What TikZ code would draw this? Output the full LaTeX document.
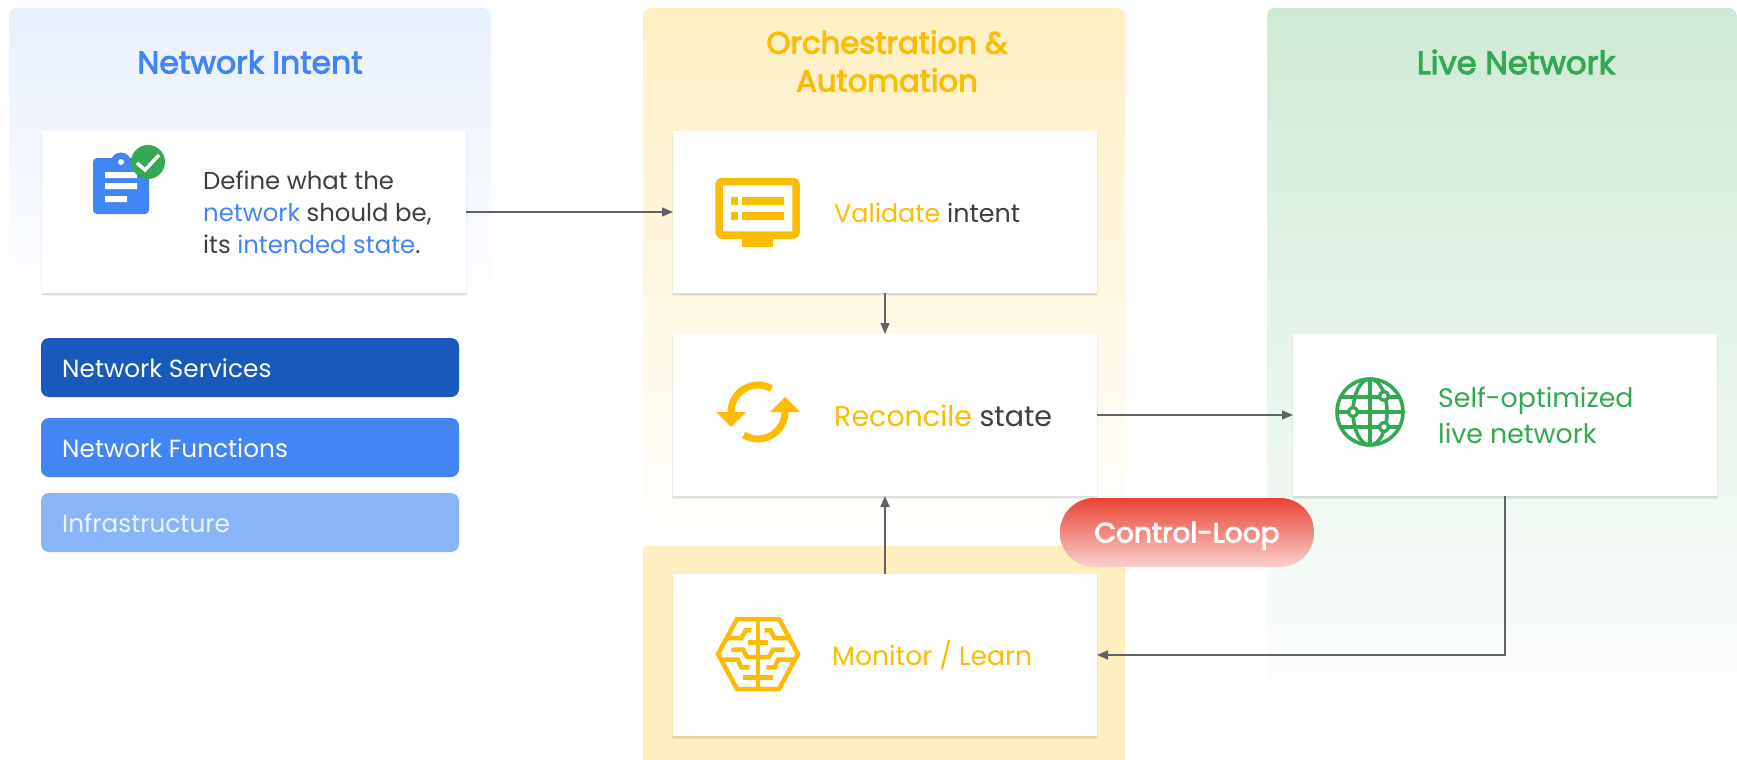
\documentclass[tikz,border=0pt]{standalone}
\usepackage{fontspec}
\setmainfont{Poppins}
\newfontfamily\headfont{Poppins}[FakeBold=3]
\usepackage{tikz}
\usetikzlibrary{arrows.meta}
\usetikzlibrary{shadows}
\definecolor{gblue}{HTML}{4285F4}
\definecolor{gdarkblue}{HTML}{185ABC}
\definecolor{glightblue}{HTML}{8AB4F8}
\definecolor{ggold}{HTML}{FBBC04}
\definecolor{ggreen}{HTML}{34A853}
\definecolor{gred}{HTML}{EA4335}
\definecolor{gtext}{HTML}{3C4043}
\definecolor{garrow}{HTML}{5F6368}
\tikzset{
card/.style={fill=white, inner sep=0pt, outer sep=0pt, minimum width=424pt, minimum height=162pt,
  drop shadow={shadow xshift=0pt, shadow yshift=-3pt, shadow scale=1.004, opacity=.05, fill=black},
  drop shadow={shadow xshift=0pt, shadow yshift=-1.5pt, shadow scale=1.002, opacity=.07, fill=black}},
bar/.style={rounded corners=8pt, inner sep=0pt, outer sep=0pt, minimum width=418pt, minimum height=59pt},
barlabel/.style={anchor=west, inner sep=0pt, text=white, font=\fontsize{24.8}{29}\selectfont},
title/.style={inner sep=0pt, align=center, font=\headfont\fontsize{30.7}{38}\selectfont},
cardlabel/.style={anchor=west, inner sep=0pt, align=left, text=gtext, font=\fontsize{24.4}{32}\selectfont},
flow/.style={-{Triangle[length=11pt,width=9pt]}, color=garrow, line width=1.3pt},
brainline/.style={draw=ggold, line width=4.5pt},
globeline/.style={draw=ggreen, line width=3.6pt},
}
\begin{document}
\begin{tikzpicture}[x=1pt,y=-1pt]
\useasboundingbox (0,0) rectangle (1737,760);
\path[top color=gblue!12, bottom color=white, rounded corners=8pt] (9,315) -- (9,8) -- (491,8) -- (491,315);
\path[top color=ggold!24, bottom color=white, rounded corners=8pt] (643,546) -- (643,8) -- (1125,8) -- (1125,546);
\path[fill=ggold!25, rounded corners=4pt] (643,760) -- (643,546) -- (1125,546) -- (1125,760);
\path[top color=ggreen!24, bottom color=white, rounded corners=8pt] (1737,722) -- (1737,8) -- (1267,8) -- (1267,722);

\node[title, text=gblue, font=\headfont\fontsize{31.4}{38}\selectfont] (intenttitle) at (250,62) {Network Intent};
\node[title, text=ggold] (orchtitle) at (887,61) {Orchestration \&\\Automation};
\node[title, text=ggreen, font=\headfont\fontsize{32.2}{38}\selectfont] (livetitle) at (1516,62) {Live Network};

\node[card] (intentcard) at (254,212) {};
\node[card] (validatecard) at (885,212) {};
\node[card] (reconcilecard) at (885,415) {};
\node[card] (monitorcard) at (885,655) {};
\node[card] (livecard) at (1505,415) {};

\node[cardlabel] (intentlabel) at (203,212) {Define what the\\\textcolor{gblue}{network} should be,\\its \textcolor{gblue}{intended state}.};
\node[cardlabel, font=\fontsize{25.4}{32}\selectfont] (validatelabel) at (834,213) {\textcolor{ggold}{Validate} intent};
\node[cardlabel, font=\fontsize{28.5}{32}\selectfont] (reconcilelabel) at (834,416) {\textcolor{ggold}{Reconcile} state};
\node[cardlabel, text=ggold, font=\fontsize{26.6}{32}\selectfont] (monitorlabel) at (832,655) {Monitor / Learn};
\node[cardlabel, text=ggreen, font=\fontsize{26.8}{36}\selectfont] (livelabel) at (1438,415) {Self-optimized\\live network};

\node[bar, fill=gdarkblue] (servicesbar) at (250,367.5) {};
\node[bar, fill=gblue] (functionsbar) at (250,447.5) {};
\node[bar, fill=glightblue] (infrabar) at (250,522.5) {};
\node[barlabel] (serviceslabel) at (62,368) {Network Services};
\node[barlabel] (functionslabel) at (62,448) {Network Functions};
\node[barlabel, text=gblue!10] (infralabel) at (62,523) {Infrastructure};

\fill[gblue, rounded corners=4pt] (93,158) rectangle (149,214);
\fill[gblue] (121,163) circle [radius=10.5pt];
\fill[white] (121,162) circle [radius=3pt];
\fill[white] (105,172) rectangle (137,178) (105,183) rectangle (137,189) (105,196) rectangle (127,202);
\fill[ggreen] (148,162) circle [radius=17pt];
\draw[white, line width=3.5pt] (137,163) -- (145,170) -- (159,155);

\draw[ggold, line width=7.5pt, rounded corners=3pt] (719,181.5) rectangle (796,235);
\fill[ggold] (742,238) rectangle (773,247);
\fill[ggold] (731,197) rectangle (738,205) (742,197) rectangle (784,205) (731,212) rectangle (738,220) (742,212) rectangle (784,220);

\draw[ggold, line width=7pt] (731,412) arc [start angle=180, end angle=60, radius=27pt];
\draw[ggold, line width=7pt] (785,412) arc [start angle=0, end angle=-122, radius=27pt];
\fill[ggold] (716,412) -- (746,412) -- (731,427) -- cycle;
\fill[ggold] (770,412) -- (800,412) -- (785,397) -- cycle;

\draw[brainline, line join=miter] (737,619) -- (779,619) -- (798,654) -- (779,689) -- (737,689) -- (718,654) -- cycle;
\draw[brainline] (758,619) -- (758,689);
\draw[brainline] (748,642.3) -- (768,642.3);
\draw[brainline] (743,677.3) -- (773,677.3);
\foreach \s in {-1,1} {
\draw[brainline] ({758+\s*32},638) -- ({758+\s*16.7},638) -- ({758+\s*12.3},630.3) -- ({758+\s*6.7},630.3);
\draw[brainline] ({758+\s*26.7},649.7) -- ({758+\s*15},649.7) -- ({758+\s*11},657) -- (758,657);
\draw[brainline] ({758+\s*37},659.7) -- ({758+\s*20},659.7) -- ({758+\s*16.7},667.3) -- ({758+\s*8.3},667.3);
}

\draw[globeline] (1370,412) circle [radius=33pt];
\draw[globeline] (1370,412) ellipse [x radius=17pt, y radius=33pt];
\draw[globeline] (1370,379) -- (1370,445);
\begin{scope}
\clip (1370,412) circle [radius=33pt];
\foreach \dy in {-15,0,15}
\draw[globeline] (1337,{412+\dy}) -- (1403,{412+\dy});
\end{scope}
\foreach \gx/\gy in {1353/412,1384/396,1384/427} {
\fill[ggreen] (\gx,\gy) circle [radius=6pt];
\fill[white] (\gx,\gy) circle [radius=2.6pt];
}

\path[flow]
(intentcard) edge (validatecard)
(validatecard) edge (reconcilecard)
(reconcilecard) edge (livecard);
\path[flow, line width=1.8pt]
(monitorcard) edge (reconcilecard);
\draw[flow, line width=1.6pt] (livecard.south) |- (monitorcard.east);

\node[inner sep=0pt, outer sep=0pt, minimum width=254pt, minimum height=69pt, rounded corners=34pt,
  top color=gred, bottom color=gred!25, text=white, text height=22pt, text depth=2pt, font=\headfont\fontsize{28}{30}\selectfont] (looppill) at (1187,532.5) {Control-Loop};
\end{tikzpicture}
\end{document}
